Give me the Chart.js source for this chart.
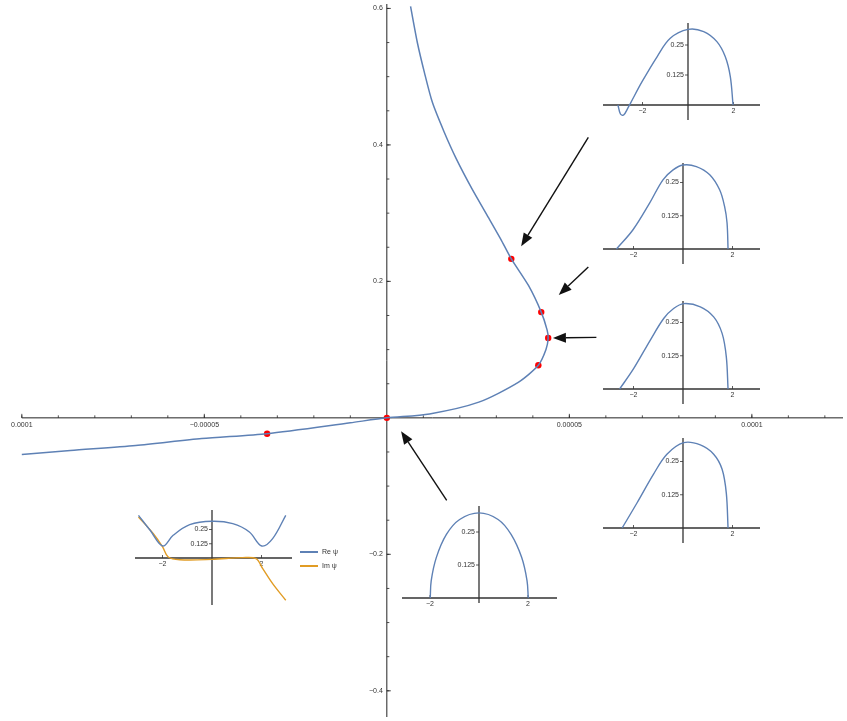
<!DOCTYPE html>
<html>
<head>
<meta charset="utf-8">
<script src="https://cdn.jsdelivr.net/npm/chart.js@4.4.1/dist/chart.umd.min.js"></script>
<style>
    body { margin: 0; background: #fff; }
    #wrap { position: relative; width: 847px; height: 721px; overflow: hidden; background: #fff; }
    #wrap canvas { position: absolute; }
    .leg { position: absolute; font: 7px "Liberation Sans", Arial, sans-serif; color: #333; white-space: nowrap; line-height: 8px; }
    .leg i { display: inline-block; width: 18px; height: 1.5px; margin-right: 4px; vertical-align: middle; }
</style>
</head>
<body>
<div id="wrap">
    <canvas id="mainChart" width="847" height="721" style="left:0;top:0"></canvas>
</div>
<script>
// Main curve (x, y), top end to left end
const mainX = [6.5e-6, 8.4e-6, 1.03e-5, 1.25e-5, 1.57e-5, 1.90e-5, 2.33e-5, 2.79e-5, 3.12e-5, 3.41e-5,
    3.88e-5, 4.23e-5, 4.39e-5, 4.42e-5, 4.36e-5, 4.15e-5, 3.60e-5, 2.52e-5, 1.17e-5, 0,
    -1.0e-5, -3.28e-5, -5.07e-5, -6.88e-5, -8.67e-5, -1.0e-4];
const mainY = [0.603, 0.549, 0.506, 0.462, 0.419, 0.380, 0.336, 0.293, 0.262, 0.233,
    0.194, 0.155, 0.129, 0.117, 0.100, 0.077, 0.052, 0.023, 0.0058, 0,
    -0.0072, -0.0232, -0.0304, -0.0406, -0.0478, -0.0536];

// Marked points
const redX = [0, -3.28e-5, 4.15e-5, 4.42e-5, 4.23e-5, 3.41e-5];
const redY = [0, -0.0232, 0.077, 0.117, 0.155, 0.233];

// Main axis ticks
const xMajorTicks = [-0.0001, -0.00005, 0.00005, 0.0001];
const xTickLabels = ['0.0001', '\u22120.00005', '0.00005', '0.0001'];
const yMajorTicks = [-0.4, -0.2, 0.2, 0.4, 0.6];
const yTickLabels = ['\u22120.4', '\u22120.2', '0.2', '0.4', '0.6'];

// Arrows (tail -> head), in data units
const arrowFrom = [[5.52e-5, 0.411], [5.52e-5, 0.221], [5.74e-5, 0.118], [1.64e-5, -0.121]];
const arrowTo = [[3.68e-5, 0.2514], [4.71e-5, 0.180], [4.55e-5, 0.117], [3.9e-6, -0.0196]];

// Inset wave functions
const psiAX = [-3.08, -2.97, -2.83, -2.61, -2.53, -2.02, -1.36, -0.78, 0, 0.69, 1.27, 1.64, 1.86, 1.98];
const psiAY = [0.0, -0.0375, -0.042, -0.007, 0.007, 0.097, 0.201, 0.278, 0.315, 0.306, 0.264, 0.201, 0.118, 0];
const psiBX = [-2.69, -2.02, -1.35, -0.81, -0.40, 0, 0.54, 1.08, 1.48, 1.68, 1.78, 1.82];
const psiBY = [0, 0.0725, 0.1725, 0.26, 0.2975, 0.316, 0.31, 0.279, 0.2225, 0.16, 0.0975, 0];
const psiCX = [-2.56, -1.99, -1.32, -0.78, -0.38, 0.03, 0.70, 1.24, 1.58, 1.75, 1.82];
const psiCY = [0, 0.0775, 0.184, 0.265, 0.3025, 0.321, 0.309, 0.271, 0.209, 0.121, 0];
const psiDX = [-2.46, -1.86, -1.19, -0.65, 0.03, 0.70, 1.24, 1.58, 1.75, 1.82];
const psiDY = [0, 0.094, 0.2025, 0.2775, 0.321, 0.3125, 0.2775, 0.221, 0.131, 0];
const psiEX = [-1.99, -1.95, -1.74, -1.33, -0.79, 0, 0.78, 1.31, 1.74, 1.96, 2.01];
const psiEY = [0, 0.066, 0.154, 0.241, 0.2975, 0.3225, 0.2975, 0.241, 0.154, 0.066, 0];
const rePsiX = [-2.97, -2.50, -1.99, -1.57, -0.90, 0, 0.84, 1.51, 2.01, 2.45, 2.98];
const rePsiY = [0.374, 0.243, 0.105, 0.199, 0.292, 0.322, 0.301, 0.228, 0.105, 0.170, 0.374];
const imPsiX = [-2.97, -2.37, -1.99, -1.77, -1.30, 0, 1.24, 1.78, 2.05, 2.45, 2.98];
const imPsiY = [0.36, 0.213, 0.096, 0.009, -0.015, -0.012, 0.003, -0.006, -0.094, -0.225, -0.371];

// Inset tick marks
const insetXTicks = [-2, 2];
const insetXLabels = ['\u22122', '2'];
const insetYTicks = [0.125, 0.25];
const insetYLabels = ['0.125', '0.25'];
const legendLabels = ['Re \u03c8', 'Im \u03c8'];

const BLUE = '#5E81B5';
const ORANGE = '#E19C24';
const FONT = '7px "Liberation Sans", Arial, sans-serif';

function pts(xs, ys) {
    return xs.map((v, i) => ({ x: v, y: ys[i] }));
}

// Mathematica-like axes crossing at the origin
const mmaAxes = {
    id: 'mmaAxes',
    beforeDatasetsDraw(chart, args, o) {
        const { ctx, chartArea: a, scales: { x, y } } = chart;
        const x0 = x.getPixelForValue(0);
        const y0 = y.getPixelForValue(0);
        const xStart = o.xFrom != null ? x.getPixelForValue(o.xFrom) : a.left;
        ctx.save();
        ctx.strokeStyle = o.lineColor;
        ctx.lineWidth = o.lineWidth;
        ctx.beginPath();
        ctx.moveTo(xStart, y0); ctx.lineTo(a.right, y0);
        ctx.moveTo(x0, a.top); ctx.lineTo(x0, a.bottom);
        ctx.stroke();

        ctx.lineWidth = 0.8;
        ctx.strokeStyle = o.tickColor;
        ctx.beginPath();
        if (o.xMinor) {
            for (let i = Math.ceil(x.min / o.xMinor); i * o.xMinor <= x.max; i++) {
                const px = x.getPixelForValue(i * o.xMinor);
                if (px < xStart - 0.5) continue;
                ctx.moveTo(px, y0); ctx.lineTo(px, y0 + o.xDir * o.minorLen);
            }
        }
        if (o.yMinor) {
            for (let i = Math.ceil(y.min / o.yMinor); i * o.yMinor <= y.max; i++) {
                const py = y.getPixelForValue(i * o.yMinor);
                ctx.moveTo(x0, py); ctx.lineTo(x0 + o.yDir * o.minorLen, py);
            }
        }
        o.xTicks.forEach(v => {
            const px = x.getPixelForValue(v);
            ctx.moveTo(px, y0); ctx.lineTo(px, y0 + o.xDir * o.majorLen);
        });
        o.yTicks.forEach(v => {
            const py = y.getPixelForValue(v);
            ctx.moveTo(x0, py); ctx.lineTo(x0 + o.yDir * o.majorLen, py);
        });
        ctx.stroke();

        ctx.font = FONT;
        ctx.fillStyle = o.labelColor;
        ctx.textAlign = 'center';
        ctx.textBaseline = 'top';
        o.xTicks.forEach((v, i) => {
            ctx.fillText(o.xLabels[i], x.getPixelForValue(v), y0 + o.xPad);
        });
        ctx.textAlign = 'right';
        ctx.textBaseline = 'middle';
        o.yTicks.forEach((v, i) => {
            ctx.fillText(o.yLabels[i], x0 - o.yPad, y.getPixelForValue(v));
        });
        ctx.restore();
    }
};

// Arrows pointing at the marked points
const arrows = {
    id: 'arrows',
    afterDatasetsDraw(chart) {
        const { ctx, scales: { x, y } } = chart;
        ctx.save();
        ctx.strokeStyle = '#111';
        ctx.fillStyle = '#111';
        ctx.lineWidth = 1.4;
        arrowFrom.forEach((f, i) => {
            const x1 = x.getPixelForValue(f[0]), y1 = y.getPixelForValue(f[1]);
            const x2 = x.getPixelForValue(arrowTo[i][0]), y2 = y.getPixelForValue(arrowTo[i][1]);
            const ang = Math.atan2(y2 - y1, x2 - x1);
            const hl = 13, hw = 5;
            const bx = x2 - hl * Math.cos(ang), by = y2 - hl * Math.sin(ang);
            ctx.beginPath();
            ctx.moveTo(x1, y1); ctx.lineTo(bx, by);
            ctx.stroke();
            ctx.beginPath();
            ctx.moveTo(x2, y2);
            ctx.lineTo(bx + hw * Math.sin(ang), by - hw * Math.cos(ang));
            ctx.lineTo(bx - hw * Math.sin(ang), by + hw * Math.cos(ang));
            ctx.closePath();
            ctx.fill();
        });
        ctx.restore();
    }
};

Chart.register(mmaAxes);

// Main plot
new Chart(document.getElementById('mainChart'), {
    type: 'scatter',
    data: {
        datasets: [{
            data: pts(mainX, mainY),
            showLine: true,
            borderColor: BLUE,
            borderWidth: 1.5,
            tension: 0.25,
            pointRadius: 0
        }, {
            data: pts(redX, redY),
            pointRadius: 3.2,
            pointBackgroundColor: '#ff0000',
            pointBorderColor: '#ff0000',
            borderWidth: 0
        }]
    },
    options: {
        responsive: false,
        animation: false,
        layout: { padding: 0 },
        scales: {
            x: { type: 'linear', display: false, min: -0.00010488, max: 0.00012497 },
            y: { type: 'linear', display: false, min: -0.4384, max: 0.6065 }
        },
        plugins: {
            legend: { display: false },
            tooltip: { enabled: false },
            mmaAxes: {
                lineColor: '#222', lineWidth: 1, tickColor: '#222', labelColor: '#333',
                xFrom: -0.0001,
                xTicks: xMajorTicks, xLabels: xTickLabels, xMinor: 0.00001, xDir: -1, xPad: 4,
                yTicks: yMajorTicks, yLabels: yTickLabels, yMinor: 0.05, yDir: 1, yPad: 4,
                majorLen: 4, minorLen: 2.5
            }
        }
    },
    plugins: [arrows]
});

// Inset placement: axis box and origin on the page, pixels per unit
const M = 14;
function makeInset(box, datasets) {
    const c = document.createElement('canvas');
    c.width = box.right - box.left + 2 * M;
    c.height = box.bottom - box.top + 2 * M;
    c.style.left = (box.left - M) + 'px';
    c.style.top = (box.top - M) + 'px';
    document.getElementById('wrap').appendChild(c);
    new Chart(c, {
        type: 'scatter',
        data: {
            datasets: datasets.map(d => ({
                data: d.data,
                showLine: true,
                borderColor: d.color,
                borderWidth: 1.4,
                tension: 0.35,
                pointRadius: 0,
                clip: false
            }))
        },
        options: {
            responsive: false,
            animation: false,
            layout: { padding: M },
            scales: {
                x: { type: 'linear', display: false, min: (box.left - box.ox) / box.sx, max: (box.right - box.ox) / box.sx },
                y: { type: 'linear', display: false, min: (box.oy - box.bottom) / box.sy, max: (box.oy - box.top) / box.sy }
            },
            plugins: {
                legend: { display: false },
                tooltip: { enabled: false },
                mmaAxes: {
                    lineColor: '#333', lineWidth: 1.3, tickColor: '#333', labelColor: '#333',
                    xTicks: insetXTicks, xLabels: insetXLabels, xMinor: null, xDir: -1, xPad: 3,
                    yTicks: insetYTicks, yLabels: insetYLabels, yMinor: null, yDir: -1, yPad: 4,
                    majorLen: 3, minorLen: 0
                }
            }
        }
    });
}

makeInset({ left: 603, right: 760, top: 23, bottom: 120, ox: 688, oy: 105, sx: 22.75, sy: 240 },
    [{ data: pts(psiAX, psiAY), color: BLUE }]);
makeInset({ left: 603, right: 760, top: 163, bottom: 264, ox: 683, oy: 249, sx: 24.75, sy: 266 },
    [{ data: pts(psiBX, psiBY), color: BLUE }]);
makeInset({ left: 603, right: 760, top: 301, bottom: 404, ox: 683, oy: 389, sx: 24.75, sy: 266 },
    [{ data: pts(psiCX, psiCY), color: BLUE }]);
makeInset({ left: 603, right: 760, top: 438, bottom: 543, ox: 683, oy: 528, sx: 24.75, sy: 266 },
    [{ data: pts(psiDX, psiDY), color: BLUE }]);
makeInset({ left: 402, right: 557, top: 506, bottom: 603, ox: 479, oy: 598, sx: 24.5, sy: 264 },
    [{ data: pts(psiEX, psiEY), color: BLUE }]);
makeInset({ left: 135, right: 292, top: 510, bottom: 605, ox: 212, oy: 558, sx: 24.75, sy: 114 },
    [{ data: pts(rePsiX, rePsiY), color: BLUE }, { data: pts(imPsiX, imPsiY), color: ORANGE }]);

// Legend for the Re / Im inset
[BLUE, ORANGE].forEach((col, i) => {
    const d = document.createElement('div');
    d.className = 'leg';
    d.style.left = '300px';
    d.style.top = (548 + i * 14) + 'px';
    d.innerHTML = '<i style="background:' + col + '"></i>' + legendLabels[i];
    document.getElementById('wrap').appendChild(d);
});
</script>
</body>
</html>
